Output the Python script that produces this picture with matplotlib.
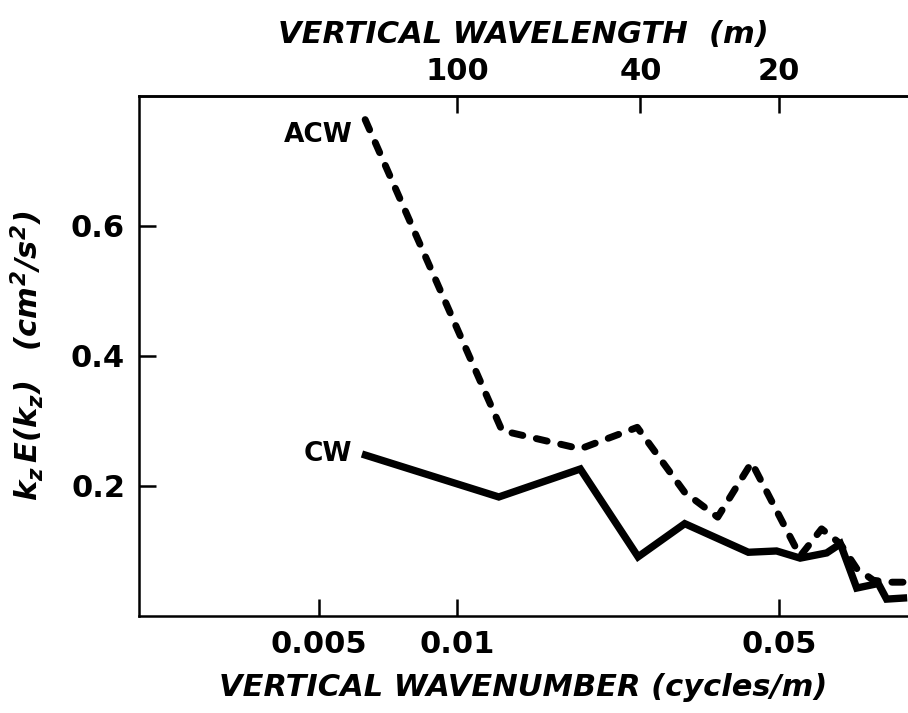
import numpy as np
import matplotlib
matplotlib.use("Agg")
import matplotlib.pyplot as plt
from matplotlib.ticker import FixedLocator, FixedFormatter, NullLocator

plt.rcParams['font.family'] = ['DejaVu Sans']
plt.rcParams['mathtext.fontset'] = 'custom'
plt.rcParams['mathtext.it'] = 'DejaVu Sans:bold:italic'
plt.rcParams['mathtext.rm'] = 'DejaVu Sans:bold:italic'

# vertical wavenumber (cycles/m) and k_z E(k_z) (cm^2/s^2)
cw_k = [0.0062, 0.0123, 0.0185, 0.0247, 0.0312, 0.0429, 0.0494, 0.0556, 0.0635,
        0.0680, 0.0738, 0.0822, 0.0857, 0.0950]
cw_e = [0.249, 0.183, 0.226, 0.091, 0.142, 0.098, 0.100, 0.089, 0.097,
        0.111, 0.043, 0.050, 0.026, 0.028]

acw_k = [0.0063, 0.0125, 0.0185, 0.0246, 0.0312, 0.0368, 0.0436, 0.0556, 0.0619,
         0.0680, 0.0738, 0.0802, 0.0864, 0.0950]
acw_e = [0.763, 0.285, 0.257, 0.290, 0.190, 0.152, 0.236, 0.092, 0.134,
         0.111, 0.073, 0.055, 0.052, 0.052]

bottom_ticks = [0.005, 0.01, 0.05]
bottom_labels = ['0.005', '0.01', '0.05']
top_ticks = [100, 40, 20]
top_labels = ['100', '40', '20']
y_ticks = [0.2, 0.4, 0.6]

fig = plt.figure(figsize=(9.08, 7.13), dpi=100)
ax = fig.add_axes([0.153, 0.136, 0.847, 0.730])

ax.plot(cw_k, cw_e, color='black', lw=5.3, solid_joinstyle='miter', solid_capstyle='butt')
ax.plot(acw_k, acw_e, color='black', lw=5, linestyle=(0, (1.6, 2.0)),
        dash_capstyle='round')

ax.annotate('ACW', xy=(acw_k[0], acw_e[0]), xytext=(-9, -11), textcoords='offset points',
            ha='right', va='center', fontsize=19, fontweight='bold')
ax.annotate('CW', xy=(cw_k[0], cw_e[0]), xytext=(-7, 0), textcoords='offset points',
            ha='right', va='center', fontsize=19, fontweight='bold')

ax.set_xscale('log')
ax.set_xlim(0.00203, 0.0954)
ax.set_ylim(0, 0.8)

ax.xaxis.set_major_locator(FixedLocator(bottom_ticks))
ax.xaxis.set_major_formatter(FixedFormatter(bottom_labels))
ax.xaxis.set_minor_locator(NullLocator())
ax.set_yticks(y_ticks)
ax.set_yticklabels([f'{v:.1f}' for v in y_ticks])

ax.tick_params(axis='both', direction='in', length=12, width=1.8, labelsize=22)
ax.tick_params(axis='x', pad=10)
ax.tick_params(axis='y', pad=10)
for lbl in ax.get_xticklabels() + ax.get_yticklabels():
    lbl.set_fontweight('bold')

for side in ['left', 'bottom', 'top']:
    ax.spines[side].set_linewidth(1.8)
ax.spines['right'].set_visible(False)

ax.set_xlabel('VERTICAL WAVENUMBER (cycles/m)', fontsize=22, fontweight='bold',
              fontstyle='italic', labelpad=10)
ax.set_ylabel(r'$k_z\,E(k_z)$   $(cm^2/s^2)$', fontsize=22, labelpad=18)

inv = lambda x: 1.0 / x
top = ax.secondary_xaxis('top', functions=(inv, inv))
top.xaxis.set_major_locator(FixedLocator(top_ticks))
top.xaxis.set_major_formatter(FixedFormatter(top_labels))
top.xaxis.set_minor_locator(NullLocator())
top.tick_params(direction='in', length=12, width=1.8, labelsize=22, pad=7)
for lbl in top.get_xticklabels():
    lbl.set_fontweight('bold')
top.spines['top'].set_linewidth(1.8)
top.set_xlabel('VERTICAL WAVELENGTH  (m)', fontsize=22, fontweight='bold',
               fontstyle='italic', labelpad=10)

fig.savefig('out.png', dpi=100)
